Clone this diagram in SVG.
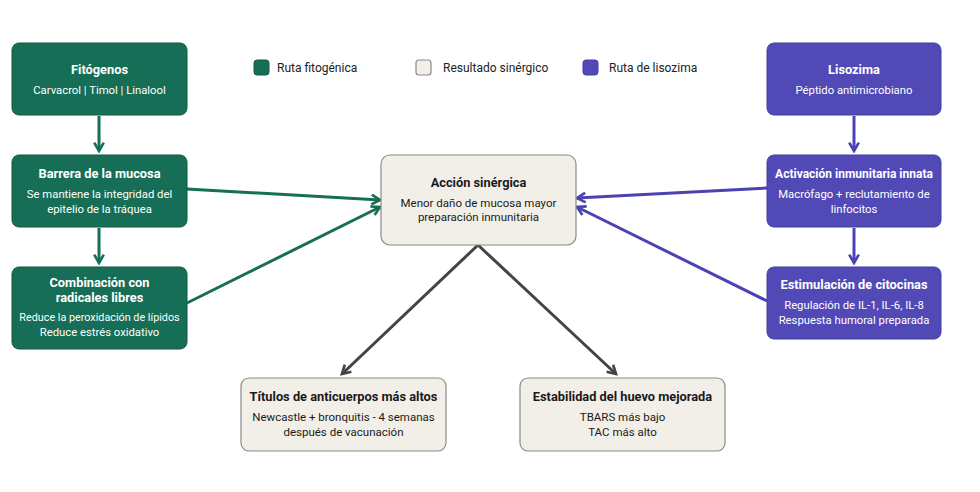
<svg xmlns="http://www.w3.org/2000/svg" width="980" height="492" viewBox="0 0 980 492">
<style>
.g{fill:#156e55;stroke:#0f5a45;stroke-width:1}
.p{fill:#5149b6;stroke:#453da5;stroke-width:1}
.b{fill:#f2efe8;stroke:#8a8a86;stroke-width:1.2}
text{font-family:Roboto,"Liberation Sans",sans-serif;text-anchor:middle}
.tw{fill:#fff;font-weight:bold;font-size:12.8px}
.sw{fill:#fff;font-size:11.3px}
.td{fill:#1a1a1a;font-weight:bold;font-size:12.8px}
.sd{fill:#1a1a1a;font-size:11.5px}
.lg{fill:#222;font-size:12px;text-anchor:start}
.cg{stroke:#156e55;stroke-width:3;fill:none}
.cp{stroke:#4b42b3;stroke-width:3;fill:none}
.cd{stroke:#444;stroke-width:3;fill:none}
</style>
<defs>
<marker id="ag" viewBox="0 0 10 10" refX="8" refY="5" markerWidth="4" markerHeight="4" orient="auto" markerUnits="strokeWidth"><path d="M1,1 L8,5 L1,9" fill="none" stroke="#156e55" stroke-width="2.2"/></marker>
<marker id="ap" viewBox="0 0 10 10" refX="8" refY="5" markerWidth="4" markerHeight="4" orient="auto" markerUnits="strokeWidth"><path d="M1,1 L8,5 L1,9" fill="none" stroke="#4b42b3" stroke-width="2.2"/></marker>
<marker id="ad" viewBox="0 0 10 10" refX="8" refY="5" markerWidth="4" markerHeight="4" orient="auto" markerUnits="strokeWidth"><path d="M1,1 L8,5 L1,9" fill="none" stroke="#444" stroke-width="2.2"/></marker>
</defs>
<rect width="980" height="492" fill="#fff"/>
<g id="connectors">
<line class="cg" x1="99" y1="116" x2="99" y2="151" marker-end="url(#ag)"/>
<line class="cg" x1="99" y1="228" x2="99" y2="263" marker-end="url(#ag)"/>
<line class="cg" x1="187" y1="189" x2="380" y2="200" marker-end="url(#ag)"/>
<line class="cg" x1="187" y1="303" x2="380" y2="207" marker-end="url(#ag)"/>
<line class="cp" x1="854" y1="116" x2="854" y2="151" marker-end="url(#ap)"/>
<line class="cp" x1="854" y1="228" x2="854" y2="263" marker-end="url(#ap)"/>
<line class="cp" x1="767" y1="188" x2="577" y2="198" marker-end="url(#ap)"/>
<line class="cp" x1="767" y1="301" x2="577" y2="207" marker-end="url(#ap)"/>
<line class="cd" x1="478" y1="245" x2="342" y2="374" marker-end="url(#ad)"/>
<line class="cd" x1="478" y1="245" x2="616" y2="374" marker-end="url(#ad)"/>
</g>
<g id="legend">
<rect x="254" y="60" width="15" height="15" rx="3" class="g"/>
<text class="lg" x="277" y="72">Ruta fitogénica</text>
<rect x="416" y="60" width="15" height="15" rx="3" class="b"/>
<text class="lg" x="443" y="72">Resultado sinérgico</text>
<rect x="583" y="60" width="15" height="15" rx="3" class="p"/>
<text class="lg" x="609" y="72">Ruta de lisozima</text>
</g>
<g id="fitogenos">
<rect x="12" y="43" width="175" height="72" rx="7" class="g"/>
<text class="tw" x="99.5" y="74">Fitógenos</text>
<text class="sw" x="99.5" y="94">Carvacrol | Timol | Linalool</text>
</g>
<g id="barrera">
<rect x="12" y="155" width="175" height="72" rx="7" class="g"/>
<text class="tw" x="99.5" y="178">Barrera de la mucosa</text>
<text class="sw" x="99.5" y="198">Se mantiene la integridad del</text>
<text class="sw" x="99.5" y="213">epitelio de la tráquea</text>
</g>
<g id="combinacion">
<rect x="12" y="267" width="175" height="82" rx="7" class="g"/>
<text class="tw" x="99.5" y="287">Combinación con</text>
<text class="tw" x="99.5" y="302">radicales libres</text>
<text class="sw" x="99.5" y="321" style="font-size:10.8px">Reduce la peroxidación de lípidos</text>
<text class="sw" x="99.5" y="336">Reduce estrés oxidativo</text>
</g>
<g id="lisozima">
<rect x="767" y="43" width="174" height="72" rx="7" class="p"/>
<text class="tw" x="854" y="74">Lisozima</text>
<text class="sw" x="854" y="94">Péptido antimicrobiano</text>
</g>
<g id="activacion">
<rect x="767" y="155" width="174" height="72" rx="7" class="p"/>
<text class="tw" x="854" y="178" style="font-size:12px">Activación inmunitaria innata</text>
<text class="sw" x="854" y="198">Macrófago + reclutamiento de</text>
<text class="sw" x="854" y="213">linfocitos</text>
</g>
<g id="estimulacion">
<rect x="767" y="267" width="174" height="72" rx="7" class="p"/>
<text class="tw" x="854" y="289">Estimulación de citocinas</text>
<text class="sw" x="854" y="309">Regulación de IL-1, IL-6, IL-8</text>
<text class="sw" x="854" y="324">Respuesta humoral preparada</text>
</g>
<g id="accion">
<rect x="381" y="155" width="195" height="90" rx="9" class="b"/>
<text class="td" x="478.5" y="187">Acción sinérgica</text>
<text class="sd" x="478.5" y="207">Menor daño de mucosa mayor</text>
<text class="sd" x="478.5" y="221">preparación inmunitaria</text>
</g>
<g id="titulos">
<rect x="241" y="378" width="205" height="73" rx="8" class="b"/>
<text class="td" x="343.5" y="401">Títulos de anticuerpos más altos</text>
<text class="sd" x="343.5" y="421">Newcastle + bronquitis - 4 semanas</text>
<text class="sd" x="343.5" y="436">después de vacunación</text>
</g>
<g id="estabilidad">
<rect x="520" y="378" width="205" height="73" rx="8" class="b"/>
<text class="td" x="622.5" y="401">Estabilidad del huevo mejorada</text>
<text class="sd" x="622.5" y="421">TBARS más bajo</text>
<text class="sd" x="622.5" y="436">TAC más alto</text>
</g>
</svg>
